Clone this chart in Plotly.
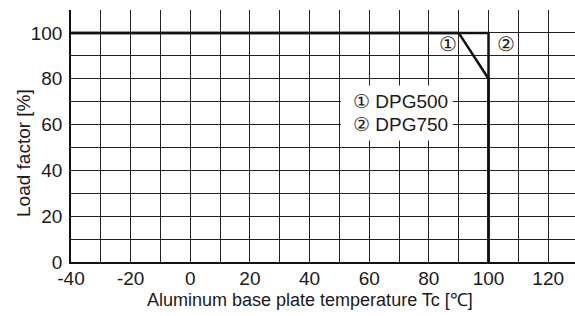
import plotly.graph_objects as go

# Data
dpg500_x = [-40, 90, 100, 100]
dpg500_y = [100, 100, 80, 0]
dpg750_x = [-40, 100, 100]
dpg750_y = [100, 100, 0]
x_ticks = [-40, -20, 0, 20, 40, 60, 80, 100, 120]
x_tick_text = ["-40", "-20", "0", "20", "40", "60", "80", "100", "120"]
y_ticks = [0, 20, 40, 60, 80, 100]
y_tick_text = ["0", "20", "40", "60", "80", "100"]
series_names = ["DPG500", "DPG750"]
series_marks = ["\u2460", "\u2461"]

FONT = "Liberation Sans, Arial, sans-serif"
GRID = "#222222"
TXT = "#1a1a1a"

fig = go.Figure()
fig.add_trace(go.Scatter(x=dpg750_x, y=dpg750_y, mode="lines",
                         line=dict(color="#111111", width=2.5), name=series_names[1]))
fig.add_trace(go.Scatter(x=dpg500_x, y=dpg500_y, mode="lines",
                         line=dict(color="#111111", width=2.5), name=series_names[0]))

# white label box
fig.add_shape(type="rect", x0=50.5, x1=88, y0=53, y1=77, xref="x", yref="y",
              fillcolor="white", line=dict(width=0), layer="above")

fig.add_annotation(x=53.8, y=70, text=f"{series_marks[0]} {series_names[0]}", showarrow=False,
                   xanchor="left", yanchor="middle", font=dict(size=19, color=TXT, family=FONT))
fig.add_annotation(x=53.8, y=60, text=f"{series_marks[1]} {series_names[1]}", showarrow=False,
                   xanchor="left", yanchor="middle", font=dict(size=19, color=TXT, family=FONT))
fig.add_annotation(x=86.3, y=95, text=series_marks[0], showarrow=False,
                   xanchor="center", yanchor="middle", font=dict(size=20, color=TXT, family=FONT))
fig.add_annotation(x=106, y=95, text=series_marks[1], showarrow=False,
                   xanchor="center", yanchor="middle", font=dict(size=20, color=TXT, family=FONT))

# axis titles as paper annotations for exact placement
fig.add_annotation(xref="paper", yref="paper", x=(310 - 71) / 504, y=-(300 - 262) / 252,
                   text="Aluminum base plate temperature Tc [\u2103]", showarrow=False,
                   xanchor="center", yanchor="middle", font=dict(size=18, color=TXT, family=FONT))
fig.add_annotation(xref="paper", yref="paper", x=-(71 - 23) / 504, y=(262 - 153) / 252,
                   text="Load factor [%]", showarrow=False, textangle=-90,
                   xanchor="center", yanchor="middle", font=dict(size=19, color=TXT, family=FONT))

fig.update_layout(
    width=575, height=316,
    margin=dict(l=71, r=0, t=10, b=54, autoexpand=False),
    paper_bgcolor="white", plot_bgcolor="white",
    showlegend=False,
    font=dict(family=FONT, size=19, color=TXT),
)
fig.update_xaxes(range=[-40, 129], tickvals=x_ticks, ticktext=x_tick_text, ticks="",
                 showgrid=True, gridcolor=GRID, gridwidth=1, zeroline=False,
                 showline=True, linecolor="#111", linewidth=1.5, automargin=False,
                 ticklabelstandoff=-2,
                 minor=dict(dtick=10, tick0=0, showgrid=True, gridcolor=GRID, gridwidth=1),
                 tickfont=dict(size=19))
fig.update_yaxes(range=[0, 110], tickvals=y_ticks, ticktext=y_tick_text, ticks="",
                 showgrid=True, gridcolor=GRID, gridwidth=1, zeroline=False,
                 showline=True, linecolor="#111", linewidth=1.5, automargin=False,
                 ticklabelstandoff=3,
                 minor=dict(dtick=10, tick0=0, showgrid=True, gridcolor=GRID, gridwidth=1),
                 tickfont=dict(size=19))

fig.write_html("out.html", config={"displayModeBar": False},
               post_script="document.body.style.margin='0px';document.body.style.overflow='hidden';")
